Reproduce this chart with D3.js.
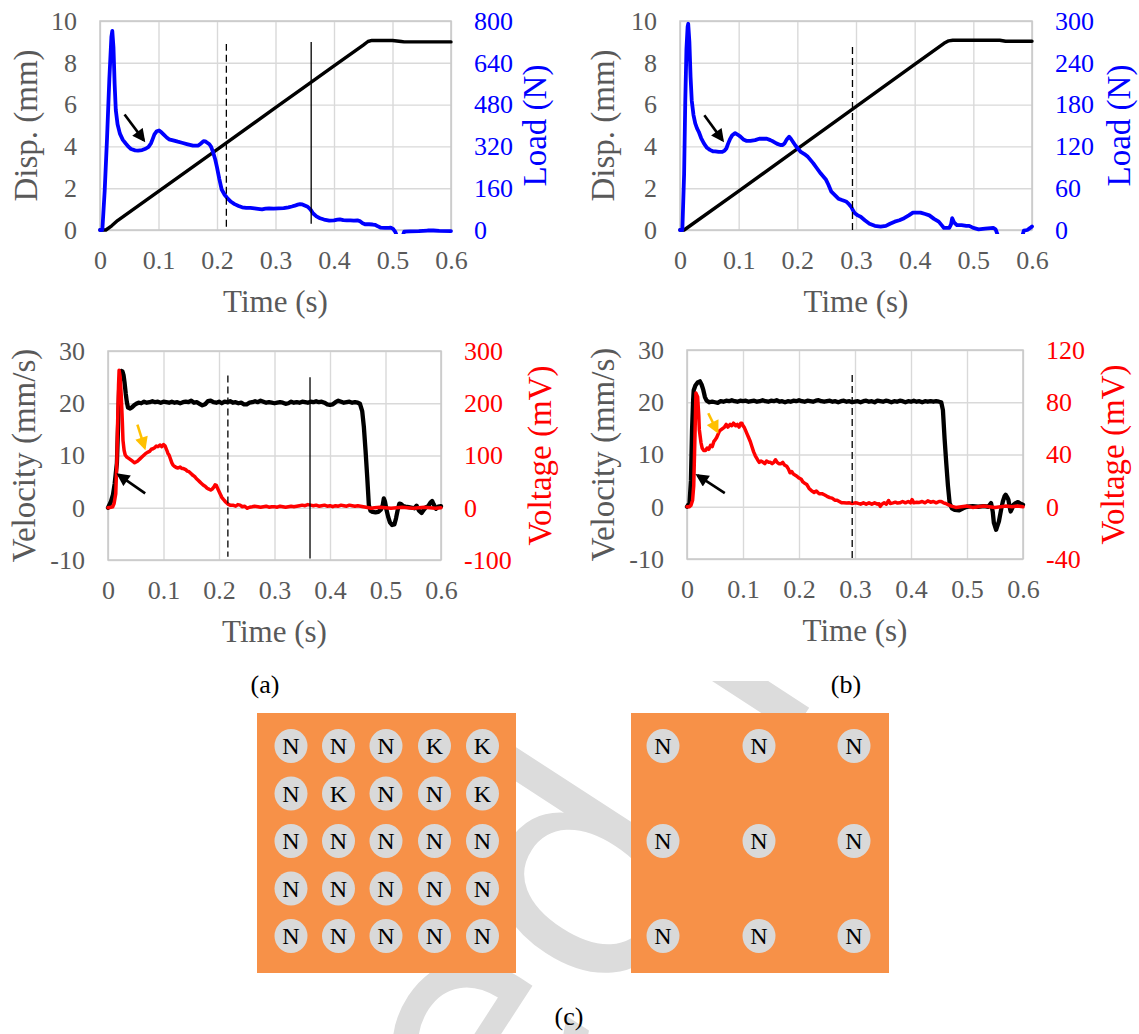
<!DOCTYPE html>
<html>
<head>
<meta charset="utf-8">
<script src="https://cdn.jsdelivr.net/npm/d3@7"></script>
<style>
  body { margin: 0; background: #fff; }
  svg { display: block; }
</style>
</head>
<body>
<svg id="fig" width="1139" height="1034"></svg>
<script>
// ---------- tick values ----------
const timeTicks = [0, 0.1, 0.2, 0.3, 0.4, 0.5, 0.6];
const dispTicks = [0, 2, 4, 6, 8, 10];
const loadTicksA = [0, 160, 320, 480, 640, 800];
const loadTicksB = [0, 60, 120, 180, 240, 300];
const velTicks = [-10, 0, 10, 20, 30];
const voltTicksA = [-100, 0, 100, 200, 300];
const voltTicksB = [-40, 0, 40, 80, 120];

// ---------- series: [time (s), value] ----------
const dispA = [[0,0],[0.01,0],[0.02,0.2],[0.03,0.45],[0.1,1.85],[0.2,3.85],[0.3,5.85],[0.36,7.05],[0.4,7.85],[0.45,8.85],[0.458,9.02],[0.465,9.07],[0.5,9.07],[0.515,9.02],[0.52,9.0],[0.6,9.0]];

const loadA = [[0,0],[0.004,0],[0.008,150],[0.012,350],[0.016,580],[0.0195,740],[0.021,762],[0.023,700],[0.025,560],[0.027,459],[0.03,405],[0.034,369],[0.039,345],[0.044,331],[0.049,318],[0.053,310],[0.06,305],[0.065,304],[0.072,306],[0.078,311],[0.083,318],[0.087,331],[0.09,348],[0.093,366],[0.097,378],[0.101,381],[0.105,374],[0.109,365],[0.114,354],[0.118,347],[0.125,343],[0.133,338],[0.14,334],[0.15,328],[0.159,323],[0.168,323],[0.172,330],[0.177,340],[0.18,339],[0.184,333],[0.187,328],[0.19,318],[0.193,300],[0.197,270],[0.2,240],[0.204,195],[0.208,155],[0.213,135],[0.218,121],[0.224,108],[0.23,99],[0.237,92],[0.243,87],[0.25,85],[0.257,85],[0.264,83],[0.27,81],[0.277,79],[0.283,82],[0.289,83],[0.297,82],[0.305,83],[0.314,84],[0.322,87],[0.328,90],[0.333,93],[0.338,97],[0.342,99],[0.346,98],[0.35,94],[0.355,89],[0.36,78],[0.364,64],[0.37,52],[0.376,45],[0.383,40],[0.392,36],[0.4,37],[0.406,40],[0.41,41],[0.416,38],[0.422,37],[0.428,37],[0.434,36],[0.44,37],[0.445,33],[0.449,26],[0.453,22],[0.46,22],[0.466,21],[0.47,20],[0.475,14],[0.48,9],[0.487,8],[0.493,8],[0.497,9],[0.501,4],[0.505,-8],[0.51,-40],[0.515,-40],[0.52,-6],[0.53,-5],[0.545,-4],[0.56,-2],[0.57,-2],[0.58,-3],[0.6,-4]];

const dispB = [[0,0],[0.007,0],[0.1,1.86],[0.2,3.88],[0.3,5.9],[0.4,7.92],[0.45,8.93],[0.458,9.05],[0.465,9.08],[0.545,9.08],[0.555,9.03],[0.6,9.03]];

const loadB = [[0,0],[0.004,0],[0.007,80],[0.009,186],[0.011,260],[0.013,292],[0.014,296],[0.016,270],[0.018,220],[0.02,186],[0.023,165],[0.026,153],[0.029,146],[0.032,141],[0.036,132],[0.041,124],[0.046,118],[0.051,115],[0.056,113],[0.06,113],[0.066,112],[0.072,112],[0.076,114],[0.079,117],[0.082,124],[0.085,130],[0.089,136],[0.094,139],[0.098,137],[0.103,134],[0.108,130],[0.113,128],[0.12,128],[0.128,129],[0.135,131],[0.141,131],[0.148,131],[0.154,129],[0.159,127],[0.165,124],[0.171,122],[0.175,122],[0.178,124],[0.182,130],[0.186,134],[0.189,131],[0.193,126],[0.197,121],[0.202,116],[0.206,112],[0.212,109],[0.218,105],[0.222,101],[0.227,96],[0.233,89],[0.24,81],[0.245,76],[0.249,72],[0.253,65],[0.258,55],[0.264,50],[0.27,45],[0.276,43],[0.283,41],[0.288,37],[0.292,33],[0.295,28],[0.298,24],[0.303,21],[0.308,19],[0.315,14],[0.323,9],[0.332,6],[0.342,5],[0.351,6],[0.358,9],[0.366,12],[0.374,14],[0.382,17],[0.39,21],[0.397,25],[0.404,25],[0.41,25],[0.418,23],[0.425,21],[0.433,16],[0.441,12],[0.446,7],[0.45,3],[0.455,3],[0.459,3],[0.462,8],[0.464,17],[0.467,11],[0.472,7],[0.48,7],[0.488,6],[0.493,6],[0.5,3],[0.509,1],[0.52,2],[0.534,3],[0.538,1],[0.541,-6],[0.545,-20],[0.58,-20],[0.586,-1],[0.592,0],[0.597,3],[0.6,5]];

const velA = [[0,0],[0.005,1.1],[0.009,2.5],[0.012,4.6],[0.016,8.5],[0.018,15],[0.02,22.5],[0.022,25.3],[0.024,26.2],[0.026,26.1],[0.028,25.4],[0.03,23.8],[0.032,21.8],[0.034,20.2],[0.036,19.2],[0.04,19],[0.043,19.2],[0.047,19.6],[0.051,19.9],[0.055,20.1],[0.06,20.0],[0.065,20.3],[0.07,20.1],[0.075,20.2],[0.08,20.4],[0.085,20.2],[0.09,20.3],[0.095,20.1],[0.1,20.3],[0.105,20.2],[0.11,20.1],[0.115,20.3],[0.12,20.1],[0.125,20.2],[0.13,20.0],[0.135,20.2],[0.14,20.3],[0.145,20.2],[0.15,20.5],[0.155,20.1],[0.16,20.2],[0.165,19.9],[0.17,19.6],[0.175,19.8],[0.18,20.4],[0.185,20.5],[0.19,20.2],[0.195,20.1],[0.2,20.3],[0.205,20.0],[0.21,20.3],[0.215,20.2],[0.22,20.4],[0.225,20.1],[0.23,20.2],[0.235,20.0],[0.24,20.1],[0.245,19.8],[0.25,19.8],[0.255,20.1],[0.26,20.2],[0.265,20.4],[0.27,20.2],[0.275,20.5],[0.28,20.3],[0.285,20.1],[0.29,20.2],[0.295,20.1],[0.3,20.0],[0.305,20.1],[0.31,20.2],[0.315,20.1],[0.32,19.9],[0.325,20.0],[0.33,20.3],[0.335,20.1],[0.34,20.2],[0.345,20.1],[0.35,20.3],[0.355,20.2],[0.36,20.1],[0.365,20.3],[0.37,20.2],[0.375,20.4],[0.38,20.2],[0.385,20.3],[0.39,20.1],[0.395,19.8],[0.4,19.7],[0.405,19.8],[0.41,20.2],[0.415,20.5],[0.42,20.3],[0.425,20.1],[0.43,20.2],[0.435,20.3],[0.44,20.1],[0.445,20.2],[0.45,20.1],[0.454,19.9],[0.458,18.5],[0.461,15.5],[0.464,11],[0.467,6],[0.47,0.5],[0.473,-0.6],[0.477,-0.8],[0.482,-0.9],[0.487,-0.8],[0.492,-0.3],[0.495,0.5],[0.497,1.8],[0.499,1.2],[0.502,-0.5],[0.505,-1.8],[0.508,-2.8],[0.512,-3.3],[0.516,-3.2],[0.519,-2],[0.522,-0.4],[0.525,0.8],[0.528,0.7],[0.532,0.3],[0.536,0.2],[0.542,0.1],[0.548,0],[0.552,-0.1],[0.556,0.4],[0.56,-0.5],[0.565,-1],[0.569,-0.4],[0.573,0.1],[0.577,0.3],[0.581,1],[0.584,1.3],[0.587,0.6],[0.591,-0.2],[0.595,0.2],[0.6,0.3]];

const voltA = [[0,0],[0.005,1],[0.0085,2],[0.011,8],[0.014,27],[0.016,90],[0.017,148],[0.019,235],[0.02,263],[0.022,250],[0.024,212],[0.026,160],[0.027,129],[0.029,110],[0.031,101],[0.034,97],[0.038,94],[0.043,90],[0.048,86],[0.053,89],[0.058,94],[0.062,98],[0.067,103],[0.071,106],[0.075,108],[0.078,112],[0.081,113],[0.084,115],[0.087,118],[0.09,117],[0.094,120],[0.097,117],[0.1,121],[0.103,118],[0.106,110],[0.108,104],[0.11,101],[0.113,92],[0.115,86],[0.117,82],[0.12,79],[0.123,77],[0.126,76],[0.13,78],[0.133,75],[0.136,75],[0.14,73],[0.143,70],[0.146,69],[0.15,65],[0.153,62],[0.156,60],[0.159,56],[0.162,53],[0.165,50],[0.168,47],[0.172,43],[0.175,41],[0.178,38],[0.181,36],[0.185,34],[0.188,36],[0.191,40],[0.193,44],[0.195,43],[0.198,36],[0.202,27],[0.205,20],[0.208,16],[0.212,11],[0.216,7],[0.22,5],[0.225,5],[0.23,3],[0.234,6],[0.238,5],[0.242,2],[0.246,3],[0.251,-1],[0.255,1],[0.26,2],[0.264,3],[0.27,2],[0.275,1],[0.28,2],[0.285,3],[0.29,1],[0.295,2],[0.3,2],[0.305,1],[0.31,3],[0.315,2],[0.32,1],[0.325,2],[0.33,3],[0.335,2],[0.34,3],[0.345,4],[0.35,5],[0.355,4],[0.36,6],[0.365,5],[0.37,4],[0.375,5],[0.38,3],[0.385,4],[0.39,5],[0.395,3],[0.4,4],[0.405,2],[0.41,4],[0.415,3],[0.42,5],[0.425,4],[0.43,3],[0.435,5],[0.44,4],[0.445,3],[0.45,4],[0.455,3],[0.46,2],[0.465,1],[0.47,0],[0.474,-1],[0.48,0],[0.49,1],[0.5,0],[0.51,-1],[0.52,0],[0.53,1],[0.54,0],[0.55,-1],[0.56,0],[0.57,1],[0.58,0],[0.59,-1],[0.6,0]];

const velB = [[0,0],[0.0045,0.7],[0.007,5],[0.009,14.7],[0.011,20.5],[0.012,22.3],[0.015,23.2],[0.019,23.8],[0.023,24],[0.026,23.4],[0.029,22.4],[0.032,21],[0.035,20.3],[0.04,20.0],[0.045,20.1],[0.05,20.0],[0.055,19.9],[0.06,20.2],[0.065,20.1],[0.07,20.3],[0.075,20.2],[0.08,20.4],[0.085,20.2],[0.09,20.1],[0.095,20.3],[0.1,20.2],[0.105,20.3],[0.11,20.1],[0.115,20.2],[0.12,20.3],[0.125,20.1],[0.13,20.2],[0.135,20.4],[0.14,20.2],[0.145,20.1],[0.15,20.3],[0.155,20.2],[0.16,20.4],[0.165,20.1],[0.17,20.2],[0.175,20.0],[0.18,20.2],[0.185,20.1],[0.19,20.3],[0.195,20.2],[0.2,20.4],[0.205,20.2],[0.21,20.1],[0.215,20.3],[0.22,20.2],[0.225,20.1],[0.23,20.3],[0.235,20.4],[0.24,20.2],[0.245,20.1],[0.25,20.2],[0.255,20.3],[0.26,20.1],[0.265,20.2],[0.27,20.0],[0.275,20.2],[0.28,20.3],[0.285,20.1],[0.29,20.2],[0.295,20.0],[0.3,20.1],[0.305,20.2],[0.31,20.0],[0.315,20.2],[0.32,20.3],[0.325,20.1],[0.33,20.2],[0.335,20.0],[0.34,20.3],[0.345,20.2],[0.35,20.1],[0.355,20.3],[0.36,20.2],[0.365,20.0],[0.37,20.2],[0.375,20.1],[0.38,20.3],[0.385,20.2],[0.39,20.0],[0.395,20.2],[0.4,20.1],[0.405,20.3],[0.41,20.1],[0.415,20.2],[0.42,20.0],[0.425,20.2],[0.43,20.1],[0.435,20.2],[0.44,20.1],[0.445,20.2],[0.45,20.1],[0.454,20.0],[0.457,18.5],[0.46,13],[0.463,8.3],[0.466,4],[0.469,0.7],[0.473,-0.3],[0.478,-0.6],[0.486,-0.7],[0.493,-0.3],[0.5,0],[0.51,0.1],[0.52,0],[0.53,0.1],[0.538,0],[0.543,0.7],[0.546,-1],[0.548,-3.1],[0.552,-4.4],[0.557,-2.8],[0.561,-0.5],[0.564,1],[0.567,2],[0.569,2.3],[0.572,1.8],[0.574,1.3],[0.576,0],[0.578,-0.9],[0.581,-0.2],[0.583,0.4],[0.587,0.7],[0.591,0.9],[0.595,0.6],[0.6,0.4]];

const voltB = [[0,0],[0.004,0],[0.007,1],[0.01,5],[0.012,16],[0.014,50],[0.016,87],[0.018,85],[0.019,84],[0.021,70],[0.022,59],[0.025,49],[0.027,45],[0.03,43],[0.033,43],[0.036,45],[0.039,44],[0.042,47],[0.045,46],[0.048,50],[0.05,51],[0.053,53],[0.056,56],[0.058,58],[0.061,59],[0.064,60],[0.067,61],[0.07,63],[0.073,61],[0.077,63],[0.08,62],[0.083,64],[0.087,62],[0.09,63],[0.093,61],[0.096,64],[0.098,64],[0.1,62],[0.102,61],[0.104,59],[0.107,56],[0.11,53],[0.113,50],[0.116,46],[0.119,42],[0.122,39],[0.126,36],[0.129,34],[0.132,35],[0.136,34],[0.139,33],[0.142,35],[0.146,34],[0.149,34],[0.152,33],[0.155,34],[0.158,36],[0.161,34],[0.164,33],[0.168,33],[0.171,34],[0.174,32],[0.178,31],[0.181,29],[0.184,26],[0.187,27],[0.19,25],[0.194,24],[0.197,23],[0.2,22],[0.204,21],[0.207,19],[0.21,18],[0.214,17],[0.218,14],[0.223,12],[0.227,11],[0.231,12],[0.236,10],[0.241,10],[0.246,9],[0.25,8],[0.255,7],[0.259,6.6],[0.264,5],[0.268,5],[0.272,4],[0.276,3],[0.28,3],[0.285,2.8],[0.29,3],[0.295,2.5],[0.3,3],[0.304,2.8],[0.31,2],[0.315,3],[0.32,2],[0.325,3],[0.33,2],[0.335,3],[0.34,2],[0.343,2.3],[0.345,0.3],[0.348,2],[0.352,3],[0.356,2],[0.36,4.8],[0.363,2.5],[0.368,3],[0.372,3.5],[0.376,2.8],[0.38,3],[0.385,4],[0.39,3],[0.395,4],[0.399,3],[0.402,5.4],[0.405,3],[0.41,3.5],[0.415,3.3],[0.42,4],[0.425,3],[0.43,4.5],[0.435,3.5],[0.44,4],[0.445,3],[0.45,4],[0.454,4],[0.458,3],[0.462,2.5],[0.467,1.5],[0.472,0.5],[0.48,-0.5],[0.49,0],[0.5,0.5],[0.51,-0.5],[0.52,0],[0.53,0.5],[0.54,0],[0.55,-0.5],[0.56,0],[0.57,0.5],[0.58,0],[0.59,0.5],[0.6,0]];

// ---------- magnet layouts (N / K) ----------
const gridLeft = [
  ["N","N","N","K","K"],
  ["N","K","N","N","K"],
  ["N","N","N","N","N"],
  ["N","N","N","N","N"],
  ["N","N","N","N","N"]
];
const gridRight = [
  ["N","N","N"],
  ["N","N","N"],
  ["N","N","N"]
];

// ---------- colours & fonts ----------
const GRAY_TEXT = "#595959";
const GRID = "#d9d9d9";
const BLUE = "#0000ff";
const RED = "#ff0000";
const AMBER = "#ffc000";
const ORANGE = "#f79148";
const SERIF = "'Liberation Serif', Tinos, 'Times New Roman', Times, 'DejaVu Serif', serif";

const svg = d3.select("#fig");

// arrow heads
const defs = svg.append("defs");
[["arrowBlack", "#000"], ["arrowAmber", AMBER]].forEach(([id, c]) => {
  defs.append("marker").attr("id", id)
    .attr("viewBox", "0 0 10 10").attr("refX", 8).attr("refY", 5)
    .attr("markerUnits", "userSpaceOnUse")
    .attr("markerWidth", 15).attr("markerHeight", 13)
    .attr("orient", "auto")
    .append("path").attr("d", "M0,0 L10,5 L0,10 Z").attr("fill", c);
});

// ---------- watermark (lies under the chart area) ----------
const WM_FONT = "'DejaVu Sans', 'Liberation Sans', sans-serif";
const wm = svg.append("g").attr("transform", "translate(720,845) rotate(-57)");
const wmProbe = wm.append("text").style("font-family", WM_FONT).attr("font-size", 320).text("Accepted");
const wmLen = wmProbe.node().getComputedTextLength();
wmProbe.remove();
wm.append("text")
  .attr("class", "wm")
  .attr("x", -wmLen)
  .style("font-family", WM_FONT)
  .attr("font-size", 320)
  .attr("fill", "#dcdcdc")
  .text("Accepted Manuscript");

// opaque chart area
svg.append("rect").attr("x", 0).attr("y", 0).attr("width", 1139).attr("height", 681).attr("fill", "#fff");

let clipId = 0;
function panel(o) {
  const g = svg.append("g");
  const w = o.x1 - o.x0, h = o.y1 - o.y0;
  const x = d3.scaleLinear().domain([0, 0.6]).range([o.x0, o.x1]);
  const yL = d3.scaleLinear().domain([o.leftTicks[0], o.leftTicks[o.leftTicks.length - 1]]).range([o.y1, o.y0]);
  const yR = d3.scaleLinear().domain([o.rightTicks[0], o.rightTicks[o.rightTicks.length - 1]]).range([o.y1, o.y0]);

  // gridlines
  g.append("g").attr("transform", `translate(0,${o.y1})`)
    .call(d3.axisBottom(x).tickValues(timeTicks).tickSize(-h).tickFormat(""))
    .call(s => s.select(".domain").remove())
    .selectAll("line").attr("stroke", GRID).attr("stroke-width", 1.4);
  g.append("g").attr("transform", `translate(${o.x0},0)`)
    .call(d3.axisLeft(yL).tickValues(o.leftTicks).tickSize(-w).tickFormat(""))
    .call(s => s.select(".domain").remove())
    .selectAll("line").attr("stroke", GRID).attr("stroke-width", 1.4);
  g.append("rect").attr("x", o.x0).attr("y", o.y0).attr("width", w).attr("height", h)
    .attr("fill", "none").attr("stroke", "#c8c8c8").attr("stroke-width", 1.5);

  // tick labels
  const fmt = d => String(+(+d).toFixed(2));
  const bottomAx = g.append("g").attr("transform", `translate(0,${o.y1})`)
    .call(d3.axisBottom(x).tickValues(timeTicks).tickSize(0).tickPadding(21).tickFormat(fmt));
  const leftAx = g.append("g").attr("transform", `translate(${o.x0},0)`)
    .call(d3.axisLeft(yL).tickValues(o.leftTicks).tickSize(0).tickPadding(23).tickFormat(fmt));
  const rightAx = g.append("g").attr("transform", `translate(${o.x1},0)`)
    .call(d3.axisRight(yR).tickValues(o.rightTicks).tickSize(0).tickPadding(23).tickFormat(fmt));
  [bottomAx, leftAx, rightAx].forEach(a => {
    a.select(".domain").remove();
    a.attr("font-family", null).attr("font-size", null);
    a.selectAll("text").attr("font-size", 26).attr("fill", GRAY_TEXT);
  });
  rightAx.selectAll("text").attr("fill", o.rightColor);

  // axis titles
  g.append("text").attr("x", (o.x0 + o.x1) / 2).attr("y", o.y1 + 82)
    .attr("text-anchor", "middle").attr("font-size", 31).attr("fill", GRAY_TEXT).text("Time (s)");
  g.append("text").attr("transform", `translate(${o.leftTitleX},${(o.y0 + o.y1) / 2}) rotate(-90)`)
    .attr("text-anchor", "middle").attr("font-size", 33).attr("fill", GRAY_TEXT).text(o.leftTitle);
  g.append("text").attr("transform", `translate(${o.rightTitleX},${(o.y0 + o.y1) / 2}) rotate(-90)`)
    .attr("text-anchor", "middle").attr("font-size", 33).attr("fill", o.rightColor).text(o.rightTitle);

  // series
  const cid = "clip" + (clipId++);
  defs.append("clipPath").attr("id", cid).append("rect")
    .attr("x", o.x0 - 4).attr("y", o.y0 - 4).attr("width", w + 8).attr("height", h + 8);
  const plot = g.append("g").attr("clip-path", `url(#${cid})`);
  o.series.forEach(s => {
    const y = s.side === "L" ? yL : yR;
    plot.append("path").datum(s.data)
      .attr("fill", "none").attr("stroke", s.color).attr("stroke-width", s.width)
      .attr("stroke-linejoin", "round").attr("stroke-linecap", "round")
      .attr("d", d3.line().x(d => x(d[0])).y(d => y(d[1])));
  });

  // event markers
  o.markers.forEach(m => {
    g.append("line").attr("x1", x(m.t)).attr("x2", x(m.t))
      .attr("y1", yL(m.from)).attr("y2", yL(m.to))
      .attr("stroke", "#000").attr("stroke-width", 1.3)
      .attr("stroke-dasharray", m.dashed ? "7,4" : null);
  });

  // annotation arrows
  o.arrows.forEach(a => {
    g.append("line")
      .attr("x1", x(a.from[0])).attr("y1", yL(a.from[1]))
      .attr("x2", x(a.to[0])).attr("y2", yL(a.to[1]))
      .attr("stroke", a.color).attr("stroke-width", 2.6)
      .attr("marker-end", `url(#${a.marker})`);
  });
}

// (a) top: displacement and load
panel({
  x0: 100, x1: 451, y0: 21, y1: 230,
  leftTicks: dispTicks, rightTicks: loadTicksA, rightColor: BLUE,
  leftTitle: "Disp. (mm)", rightTitle: "Load (N)", leftTitleX: 37, rightTitleX: 546,
  series: [
    { data: dispA, side: "L", color: "#000", width: 3.4 },
    { data: loadA, side: "R", color: BLUE, width: 3.8 }
  ],
  markers: [ { t: 0.216, from: 0.16, to: 8.9, dashed: true }, { t: 0.361, from: 0.3, to: 9.0, dashed: false } ],
  arrows: [ { from: [0.042, 5.53], to: [0.0747, 4.3], color: "#000", marker: "arrowBlack" } ]
});

// (b) top: displacement and load
panel({
  x0: 680, x1: 1032, y0: 21, y1: 230,
  leftTicks: dispTicks, rightTicks: loadTicksB, rightColor: BLUE,
  leftTitle: "Disp. (mm)", rightTitle: "Load (N)", leftTitleX: 614, rightTitleX: 1130,
  series: [
    { data: dispB, side: "L", color: "#000", width: 3.4 },
    { data: loadB, side: "R", color: BLUE, width: 3.8 }
  ],
  markers: [ { t: 0.294, from: 0.0, to: 8.9, dashed: true } ],
  arrows: [ { from: [0.0415, 5.49], to: [0.0724, 4.3], color: "#000", marker: "arrowBlack" } ]
});

// (a) bottom: velocity and voltage
panel({
  x0: 108, x1: 441, y0: 351, y1: 560,
  leftTicks: velTicks, rightTicks: voltTicksA, rightColor: RED,
  leftTitle: "Velocity (mm/s)", rightTitle: "Voltage (mV)", leftTitleX: 35, rightTitleX: 551,
  series: [
    { data: velA, side: "L", color: "#000", width: 4.3 },
    { data: voltA, side: "R", color: RED, width: 3.5 }
  ],
  markers: [ { t: 0.216, from: 25.3, to: -9.4, dashed: true }, { t: 0.364, from: 25, to: -9.7, dashed: false } ],
  arrows: [
    { from: [0.067, 2.74], to: [0.019, 6.3], color: "#000", marker: "arrowBlack" },
    { from: [0.053, 15.9], to: [0.066, 11.5], color: AMBER, marker: "arrowAmber" }
  ]
});

// (b) bottom: velocity and voltage
panel({
  x0: 687, x1: 1023, y0: 350, y1: 559,
  leftTicks: velTicks, rightTicks: voltTicksB, rightColor: RED,
  leftTitle: "Velocity (mm/s)", rightTitle: "Voltage (mV)", leftTitleX: 614, rightTitleX: 1124,
  series: [
    { data: velB, side: "L", color: "#000", width: 4.3 },
    { data: voltB, side: "R", color: RED, width: 3.5 }
  ],
  markers: [ { t: 0.295, from: 25.2, to: -9.8, dashed: true } ],
  arrows: [
    { from: [0.0675, 2.6], to: [0.019, 6.0], color: "#000", marker: "arrowBlack" },
    { from: [0.038, 17.9], to: [0.054, 14.4], color: AMBER, marker: "arrowAmber" }
  ]
});

// sub-figure captions
[["(a)", 265, 693], ["(b)", 846, 693], ["(c)", 569, 1025]].forEach(([t, x, y]) => {
  svg.append("text").attr("x", x).attr("y", y).attr("text-anchor", "middle")
    .attr("font-size", 26).attr("fill", "#000").text(t);
});

// ---------- magnet arrangement panels ----------
function magnetPanel(x0, y0, wd, ht, grid, colX, rowY) {
  const g = svg.append("g");
  g.append("rect").attr("x", x0).attr("y", y0).attr("width", wd).attr("height", ht).attr("fill", ORANGE);
  grid.forEach((row, r) => row.forEach((lab, c) => {
    const px = colX[c], py = rowY[r];
    g.append("ellipse").attr("cx", px).attr("cy", py).attr("rx", 16.5).attr("ry", 17).attr("fill", "#d9d9d9");
    g.append("text").attr("x", px).attr("y", py + 8).attr("text-anchor", "middle")
      .attr("font-size", 24).attr("fill", "#000").text(lab);
  }));
}
magnetPanel(257, 713, 259, 260, gridLeft, [291, 338.5, 386, 434.5, 482.5], [746, 793.5, 841, 888.5, 936]);
magnetPanel(631, 713, 258, 260, gridRight, [663, 759, 854], [746, 841, 936]);

// serif face for every label except the watermark
svg.selectAll("text:not(.wm)").style("font-family", SERIF);
</script>
</body>
</html>
